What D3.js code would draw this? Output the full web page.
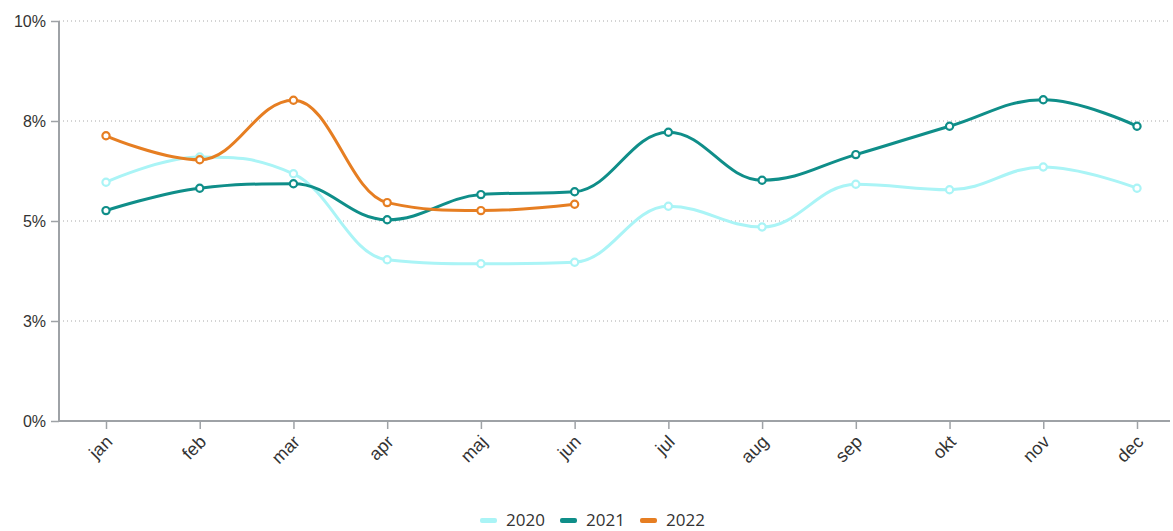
<!DOCTYPE html>
<html><head><meta charset="utf-8">
<script src="https://cdn.jsdelivr.net/npm/d3@7"></script>
<style>
html,body{margin:0;padding:0;background:#fff;}
svg{display:block;font-family:"Open Sans","Noto Sans",sans-serif;}
</style></head>
<body><svg id="c" width="1173" height="531"></svg>
<script>
const months = ["jan","feb","mar","apr","maj","jun","jul","aug","sep","okt","nov","dec"];
const yTicks = [0, 2.5, 5, 7.5, 10];
const yTickLabels = ["0%","3%","5%","8%","10%"];
const s2020 = [5.97, 6.6, 6.18, 4.03, 3.93, 3.97, 5.37, 4.85, 5.92, 5.78, 6.35, 5.82];
const s2021 = [5.26, 5.82, 5.93, 5.03, 5.66, 5.73, 7.22, 6.02, 6.66, 7.37, 8.03, 7.37];
const s2022 = [7.13, 6.53, 8.02, 5.46, 5.26, 5.42];
const seriesNames = ["2020","2021","2022"];
const seriesColors = ["#aaf4f6","#0f8e89","#e67e22"];
const seriesData = [s2020, s2021, s2022];

const svg = d3.select("#c");
const pLeft = 59, pRight = 1170, pTop = 21, pBottom = 421;
const x = d3.scalePoint().domain(months).range([106, 1137]);
const y = d3.scaleLinear().domain([0, 10]).range([pBottom, pTop]);

// gridlines
svg.append("g").selectAll("line").data(yTicks.filter(d => d > 0)).join("line")
  .attr("x1", pLeft).attr("x2", pRight)
  .attr("y1", d => y(d)).attr("y2", d => y(d))
  .attr("stroke", "#a8a8a8").attr("stroke-width", 1).attr("stroke-dasharray", "1,3");

// y axis
const yAxis = d3.axisLeft(y).tickValues(yTicks).tickFormat((d, i) => yTickLabels[i]).tickSize(8).tickPadding(5);
const gy = svg.append("g").attr("transform", `translate(${pLeft},0)`).call(yAxis);
gy.select(".domain").attr("stroke", "#9ea2a6").attr("stroke-width", 2).attr("d", `M0,${pTop}V${pBottom}`);
gy.selectAll(".tick line").attr("stroke", "#9ea2a6").attr("stroke-width", 1.5);
gy.selectAll(".tick text").attr("fill", "#333").style("font-size", "16px");

// x axis
const xAxis = d3.axisBottom(x).tickSize(8).tickPadding(6);
const gx = svg.append("g").attr("transform", `translate(0,${pBottom})`).call(xAxis);
gx.attr("font-size", 18);
gx.select(".domain").attr("stroke", "#9ea2a6").attr("stroke-width", 2).attr("d", `M${pLeft},0H${pRight}`);
gx.selectAll(".tick line").attr("stroke", "#9ea2a6").attr("stroke-width", 1.5);
gx.selectAll(".tick text").attr("fill", "#333").attr("font-size", 18).style("font-size", "18px")
  .attr("text-anchor", "end").attr("x", 0).attr("y", 0).attr("dy", null)
  .attr("transform", "translate(7,22) rotate(-45)");

// Highcharts-like spline path
function splinePath(pts) {
  const p = d3.path();
  const sm = 1.5, den = sm + 1;
  const rc = [];
  pts.forEach((pt, i) => {
    const [px, py] = pt;
    let lcx = px, lcy = py;
    if (i > 0 && i < pts.length - 1) {
      const [lx, ly] = pts[i - 1], [nx, ny] = pts[i + 1];
      lcx = (sm * px + lx) / den; lcy = (sm * py + ly) / den;
      let rcx = (sm * px + nx) / den, rcy = (sm * py + ny) / den;
      let corr = 0;
      if (rcx !== lcx) corr = ((rcy - lcy) * (rcx - px)) / (rcx - lcx) + py - rcy;
      lcy += corr; rcy += corr;
      if (lcy > ly && lcy > py) { lcy = Math.max(ly, py); rcy = 2 * py - lcy; }
      else if (lcy < ly && lcy < py) { lcy = Math.min(ly, py); rcy = 2 * py - lcy; }
      if (rcy > ny && rcy > py) { rcy = Math.max(ny, py); lcy = 2 * py - rcy; }
      else if (rcy < ny && rcy < py) { rcy = Math.min(ny, py); lcy = 2 * py - rcy; }
      rc[i] = [rcx, rcy];
    } else rc[i] = [px, py];
    if (i === 0) p.moveTo(px, py);
    else p.bezierCurveTo(rc[i - 1][0], rc[i - 1][1], lcx, lcy, px, py);
  });
  return p.toString();
}

seriesData.forEach((data, si) => {
  const pts = data.map((v, i) => [x(months[i]), y(v)]);
  const g = svg.append("g");
  g.append("path").attr("d", splinePath(pts)).attr("fill", "none")
    .attr("stroke", seriesColors[si]).attr("stroke-width", 3).attr("stroke-linecap", "round");
  g.selectAll("circle").data(data).join("circle")
    .attr("cx", (d, i) => x(months[i])).attr("cy", d => y(d)).attr("r", 3.6)
    .attr("fill", "#fff").attr("stroke", seriesColors[si]).attr("stroke-width", 2.2);
});

// legend
const legendX = [480, 560, 640];
const lg = svg.append("g");
seriesNames.forEach((n, i) => {
  lg.append("rect").attr("x", legendX[i]).attr("y", 518).attr("width", 17).attr("height", 5).attr("rx", 2)
    .attr("fill", seriesColors[i]);
  lg.append("text").attr("x", legendX[i] + 26).attr("y", 526).text(n)
    .attr("fill", "#333").style("font-size", "17px");
});
</script></body></html>
